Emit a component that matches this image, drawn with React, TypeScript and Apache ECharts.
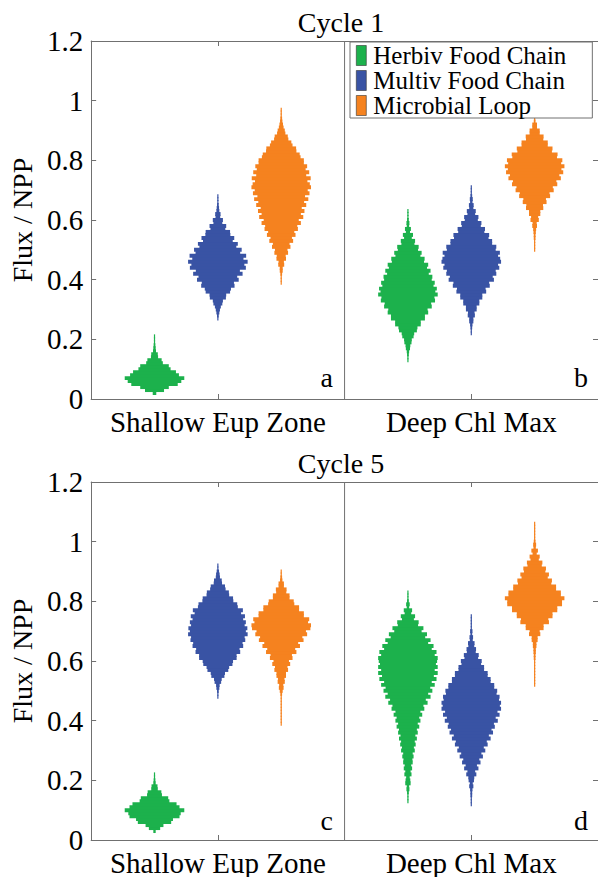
import React, { useEffect, useRef } from "react";
import * as echarts from "echarts";

// ---------- data ----------
const categories = ["Shallow Eup Zone", "Deep Chl Max"];
const seriesNames = ["Herbiv Food Chain", "Multiv Food Chain", "Microbial Loop"];
const cycleTitles = ["Cycle 1", "Cycle 5"];
const panelLetters = ["a", "b", "c", "d"];
const yTickInterval = 0.2;
const yMax = 1.2;
const BIN = 0.01; // histogram bin height (Flux / NPP)

// relative density (0-100) per bin, starting at *_START, one bin per 0.01
// Cycle 1, Shallow Eup Zone (a)
const A_HERB_START = 0.02;
const aHerb = [6, 32, 48, 78, 90, 100, 82, 72, 54, 48, 28, 24, 12, 11, 5, 4, 3, 2, 2, 1];
const A_MULTI_START = 0.27;
const aMulti = [2, 3, 5, 7, 10, 15, 17, 27, 28, 41, 44, 56, 54, 70, 65, 83, 74, 94, 89, 100, 86, 95, 75, 80, 62, 67, 50, 55, 42, 41, 25, 28, 15, 17, 8, 9, 5, 4, 3, 2, 2, 1];
const A_MICRO_START = 0.39;
const aMicro = [1, 1, 2, 3, 5, 5, 10, 9, 16, 15, 23, 21, 31, 28, 40, 36, 48, 44, 56, 54, 66, 59, 74, 66, 78, 69, 84, 77, 91, 80, 95, 89, 100, 96, 88, 99, 84, 94, 82, 87, 76, 76, 65, 62, 51, 50, 38, 34, 24, 22, 14, 12, 8, 6, 4, 3, 2, 2, 1];
// Cycle 1, Deep Chl Max (b)
const B_HERB_START = 0.13;
const bHerb = [1, 2, 3, 4, 7, 8, 12, 13, 19, 21, 30, 32, 43, 43, 57, 57, 68, 66, 80, 78, 91, 89, 100, 92, 97, 86, 90, 80, 82, 70, 76, 64, 68, 54, 56, 42, 46, 34, 36, 22, 24, 13, 17, 7, 10, 4, 5, 3, 2, 2, 1];
const B_MULTI_START = 0.22;
const bMulti = [1, 2, 3, 4, 7, 7, 12, 11, 18, 18, 27, 27, 37, 37, 50, 48, 62, 60, 76, 72, 84, 82, 94, 90, 100, 97, 90, 96, 82, 84, 70, 70, 58, 60, 44, 46, 32, 34, 22, 24, 13, 15, 7, 8, 4, 5, 3, 2, 2, 1];
const B_MICRO_START = 0.5;
const bMicro = [1, 1, 2, 2, 3, 3, 4, 5, 8, 7, 14, 12, 19, 19, 29, 28, 40, 38, 52, 50, 64, 61, 76, 73, 88, 83, 96, 90, 100, 89, 93, 75, 77, 58, 60, 44, 44, 29, 30, 17, 17, 8, 8, 3, 1];
// Cycle 5, Shallow Eup Zone (c)
const C_HERB_START = 0.03;
const cHerb = [4, 19, 30, 56, 62, 84, 88, 100, 84, 74, 50, 46, 25, 23, 11, 10, 4, 3, 2, 1];
const C_MULTI_START = 0.48;
const cMulti = [1, 2, 3, 5, 6, 11, 13, 22, 24, 35, 38, 49, 51, 63, 63, 75, 73, 85, 83, 92, 90, 100, 94, 99, 90, 94, 85, 91, 78, 84, 67, 65, 52, 51, 38, 37, 26, 24, 14, 13, 7, 6, 4, 2, 1];
const C_MICRO_START = 0.39;
const cMicro = [1, 1, 1, 1, 1, 1, 2, 2, 2, 2, 3, 5, 8, 7, 12, 11, 16, 16, 23, 21, 30, 26, 38, 36, 51, 47, 63, 57, 75, 71, 87, 83, 98, 100, 90, 94, 76, 76, 60, 60, 44, 42, 28, 28, 17, 18, 9, 9, 4, 3, 2, 1];
// Cycle 5, Deep Chl Max (d)
const D_HERB_START = 0.13;
const dHerb = [1, 2, 2, 3, 5, 4, 9, 8, 6, 12, 9, 14, 11, 16, 15, 19, 16, 23, 20, 26, 23, 30, 25, 33, 30, 38, 33, 42, 38, 48, 42, 55, 52, 66, 60, 76, 68, 82, 75, 90, 80, 96, 87, 100, 90, 100, 94, 98, 100, 90, 96, 80, 86, 68, 76, 58, 64, 46, 52, 34, 36, 20, 24, 11, 14, 4, 6, 3, 2, 2, 1];
const D_MULTI_START = 0.12;
const dMulti = [1, 2, 2, 3, 3, 4, 7, 5, 9, 10, 17, 13, 24, 19, 31, 27, 39, 34, 47, 42, 55, 52, 65, 59, 73, 68, 79, 76, 89, 82, 95, 88, 100, 96, 100, 93, 95, 85, 87, 77, 77, 65, 65, 55, 55, 43, 43, 33, 35, 23, 25, 15, 16, 10, 11, 5, 6, 3, 4, 2, 2, 1, 1, 1];
const D_MICRO_START = 0.52;
const dMicro = [1, 1, 1, 1, 1, 1, 2, 2, 2, 3, 3, 4, 4, 6, 6, 10, 10, 19, 17, 30, 30, 48, 46, 60, 60, 76, 76, 92, 92, 100, 88, 88, 72, 72, 56, 58, 44, 48, 36, 38, 24, 26, 14, 17, 7, 11, 4, 5, 3, 2, 2, 1, 1, 1, 1];

// panel (0 = Cycle 1, 1 = Cycle 5), category index, series index
const violins = [
  { panel: 0, cat: 0, kind: 0, start: A_HERB_START, widths: aHerb },
  { panel: 0, cat: 0, kind: 1, start: A_MULTI_START, widths: aMulti },
  { panel: 0, cat: 0, kind: 2, start: A_MICRO_START, widths: aMicro },
  { panel: 0, cat: 1, kind: 0, start: B_HERB_START, widths: bHerb },
  { panel: 0, cat: 1, kind: 1, start: B_MULTI_START, widths: bMulti },
  { panel: 0, cat: 1, kind: 2, start: B_MICRO_START, widths: bMicro },
  { panel: 1, cat: 0, kind: 0, start: C_HERB_START, widths: cHerb },
  { panel: 1, cat: 0, kind: 1, start: C_MULTI_START, widths: cMulti },
  { panel: 1, cat: 0, kind: 2, start: C_MICRO_START, widths: cMicro },
  { panel: 1, cat: 1, kind: 0, start: D_HERB_START, widths: dHerb },
  { panel: 1, cat: 1, kind: 1, start: D_MULTI_START, widths: dMulti },
  { panel: 1, cat: 1, kind: 2, start: D_MICRO_START, widths: dMicro },
];

// ---------- style ----------
const COLORS = ["#1cb14c", "#3953a4", "#f5821f"];
const FONT = "Liberation Serif";
const AXIS_COLOR = "#707070";
const MAX_HALF = 0.47; // half-width (x units) of the widest bin
const GRID_TOPS = [41, 482];
const GRID_LEFT = 87;
const GRID_W = 512;
const GRID_H = 358;

function buildOption() {
  const grid = GRID_TOPS.map((t) => ({ left: GRID_LEFT, top: t, width: GRID_W, height: GRID_H }));
  const xAxis: any[] = [];
  const yAxis: any[] = [];
  const series: any[] = [];

  GRID_TOPS.forEach((_, g) => {
    xAxis.push({
      type: "value",
      gridIndex: g,
      min: 0,
      max: 8,
      show: false,
    });
    xAxis.push({
      type: "category",
      gridIndex: g,
      position: "bottom",
      data: categories,
      boundaryGap: true,
      axisLine: { show: true, lineStyle: { color: AXIS_COLOR, width: 1 } },
      axisTick: { show: true, inside: true, alignWithLabel: true, length: 5, lineStyle: { color: AXIS_COLOR } },
      axisLabel: { show: true, interval: 0, margin: 8, color: "#000", fontSize: 29, fontFamily: FONT },
      splitLine: { show: false },
    });
    xAxis.push({
      type: "category",
      gridIndex: g,
      position: "top",
      data: categories,
      boundaryGap: true,
      axisLine: { show: true, lineStyle: { color: AXIS_COLOR, width: 1 } },
      axisTick: { show: true, inside: true, alignWithLabel: true, length: 5, lineStyle: { color: AXIS_COLOR } },
      axisLabel: { show: false },
      splitLine: { show: false },
    });
    yAxis.push({
      type: "value",
      gridIndex: g,
      position: "left",
      min: 0,
      max: yMax,
      interval: yTickInterval,
      name: "Flux / NPP",
      nameLocation: "middle",
      nameGap: 50,
      nameRotate: 90,
      nameTextStyle: { color: "#000", fontSize: 28, fontFamily: FONT },
      axisLine: { show: true, lineStyle: { color: AXIS_COLOR, width: 1 } },
      axisTick: { show: true, inside: true, length: 5, lineStyle: { color: AXIS_COLOR } },
      axisLabel: { show: true, margin: 8, color: "#000", fontSize: 29, fontFamily: FONT },
      splitLine: { show: false },
    });
    yAxis.push({
      type: "value",
      gridIndex: g,
      position: "right",
      min: 0,
      max: yMax,
      interval: yTickInterval,
      axisLine: { show: true, lineStyle: { color: AXIS_COLOR, width: 1 } },
      axisTick: { show: true, inside: true, length: 5, lineStyle: { color: AXIS_COLOR } },
      axisLabel: { show: false },
      splitLine: { show: false },
    });

    // divider between the two depth zones
    series.push({
      type: "line",
      xAxisIndex: g * 3,
      yAxisIndex: g * 2,
      data: [
        [4, 0],
        [4, yMax],
      ],
      showSymbol: false,
      silent: true,
      lineStyle: { color: AXIS_COLOR, width: 1 },
      z: 1,
    });

    seriesNames.forEach((name, k) => {
      const data: number[][] = [];
      violins
        .filter((v) => v.panel === g && v.kind === k)
        .forEach((v) => {
          const xc = v.cat * 4 + 1 + v.kind;
          v.widths.forEach((w, i) => {
            data.push([xc, +(v.start + i * BIN).toFixed(3), w]);
          });
        });
      series.push({
        type: "custom",
        name,
        xAxisIndex: g * 3,
        yAxisIndex: g * 2,
        itemStyle: { color: COLORS[k] },
        silent: true,
        z: 3,
        renderItem: (params: any, api: any) => {
          const xc = api.value(0);
          const y = api.value(1);
          const hw = (api.value(2) / 100) * MAX_HALF;
          const p1 = api.coord([xc - hw, y + BIN / 2]);
          const p2 = api.coord([xc + hw, y - BIN / 2]);
          let x0 = p1[0];
          let x1 = p2[0];
          if (x1 - x0 < 1.2) {
            const m = (x0 + x1) / 2;
            x0 = m - 0.6;
            x1 = m + 0.6;
          }
          return {
            type: "rect",
            shape: { x: x0, y: p1[1] - 0.5, width: x1 - x0, height: p2[1] - p1[1] + 1 },
            style: { fill: api.visual("color") },
          };
        },
        data,
      });
    });
  });

  const txt = (x: number, y: number, text: string, align: string) => ({
    type: "text",
    x,
    y,
    style: { text, fontSize: 28, fontFamily: FONT, fill: "#000", textAlign: align, textVerticalAlign: "middle" },
  });

  const graphic: any[] = [
    txt(341, 22.5, cycleTitles[0], "center"),
    txt(341, 463.5, cycleTitles[1], "center"),
    txt(333, 377.5, panelLetters[0], "right"),
    txt(588, 377.5, panelLetters[1], "right"),
    txt(333, 820.5, panelLetters[2], "right"),
    txt(588, 820.5, panelLetters[3], "right"),
  ];

  return {
    animation: false,
    backgroundColor: "#fff",
    textStyle: { fontFamily: FONT },
    grid,
    xAxis,
    yAxis,
    series,
    graphic,
    legend: {
      data: seriesNames,
      orient: "vertical",
      left: 350,
      top: 42,
      padding: [1, 26, 0, 6],
      itemGap: 0,
      itemWidth: 10,
      itemHeight: 20,
      icon: "rect",
      selectedMode: false,
      backgroundColor: "#fff",
      borderColor: AXIS_COLOR,
      borderWidth: 1,
      itemStyle: { borderColor: "#333", borderWidth: 0.6 },
      textStyle: { fontSize: 25, fontFamily: FONT, color: "#000", padding: [0, 0, 0, 2] },
    },
  };
}

export default function App() {
  const ref = useRef<HTMLDivElement>(null);
  useEffect(() => {
    document.body.style.margin = "0";
    const chart = echarts.init(ref.current!, null, { renderer: "svg" });
    chart.setOption(buildOption() as any);
    return () => chart.dispose();
  }, []);
  return <div ref={ref} style={{ width: 598, height: 877 }} />;
}
